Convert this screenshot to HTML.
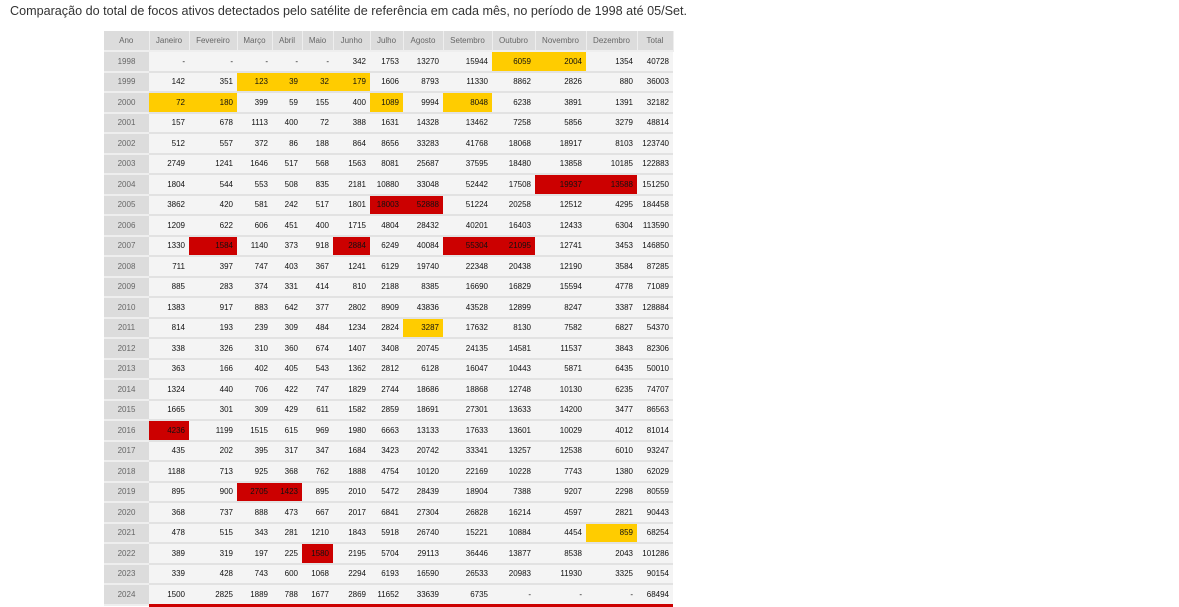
<!DOCTYPE html>
<html><head><meta charset="utf-8">
<style>
body{margin:0;background:#fff;width:1179px;height:607px;overflow:hidden;font-family:"Liberation Sans",sans-serif;}
#title{position:absolute;left:10px;top:4px;font-size:12.6px;color:#333;}
#tbl{position:absolute;left:104px;top:31px;width:569px;border-collapse:collapse;table-layout:fixed;}
#tbl td,#tbl th{box-sizing:border-box;height:20.5px;padding:0 4px 0 0;font-size:8px;text-align:right;border-bottom:2px solid #e2e2e2;background:#f4f4f4;color:#111;white-space:nowrap;overflow:hidden;}
#tbl th{background:#dcdcdc;color:#666;font-weight:normal;text-align:center;padding:0;border-right:1px solid #eee;border-bottom:2px solid #eee;height:20px;}
#tbl td.ano{background:#dcdcdc;color:#666;text-align:center;padding:0;border-bottom:2px solid #eee;}
#tbl td.y{background:#ffcc00;}
#tbl td.r{background:#cc0000;}
#redline{position:absolute;left:149px;top:604px;width:524px;height:3px;background:#cc0000;}
</style></head><body>
<div id="title">Comparação do total de focos ativos detectados pelo satélite de referência em cada mês, no período de 1998 até 05/Set.</div>
<table id="tbl"><colgroup id="cols"></colgroup><thead><tr id="hdr"></tr></thead><tbody id="body"></tbody></table>
<div id="redline"></div>
<script>
const headers=["Ano","Janeiro","Fevereiro","Março","Abril","Maio","Junho","Julho","Agosto","Setembro","Outubro","Novembro","Dezembro","Total"];
const widths=[45,40,48,35,30,31,37,33,40,49,43,51,51,36];
const years=[1998,1999,2000,2001,2002,2003,2004,2005,2006,2007,2008,2009,2010,2011,2012,2013,2014,2015,2016,2017,2018,2019,2020,2021,2022,2023,2024];
const values=[
["-","-","-","-","-",342,1753,13270,15944,6059,2004,1354,40728],
[142,351,123,39,32,179,1606,8793,11330,8862,2826,880,36003],
[72,180,399,59,155,400,1089,9994,8048,6238,3891,1391,32182],
[157,678,1113,400,72,388,1631,14328,13462,7258,5856,3279,48814],
[512,557,372,86,188,864,8656,33283,41768,18068,18917,8103,123740],
[2749,1241,1646,517,568,1563,8081,25687,37595,18480,13858,10185,122883],
[1804,544,553,508,835,2181,10880,33048,52442,17508,19937,13588,151250],
[3862,420,581,242,517,1801,18003,52888,51224,20258,12512,4295,184458],
[1209,622,606,451,400,1715,4804,28432,40201,16403,12433,6304,113590],
[1330,1584,1140,373,918,2884,6249,40084,55304,21095,12741,3453,146850],
[711,397,747,403,367,1241,6129,19740,22348,20438,12190,3584,87285],
[885,283,374,331,414,810,2188,8385,16690,16829,15594,4778,71089],
[1383,917,883,642,377,2802,8909,43836,43528,12899,8247,3387,128884],
[814,193,239,309,484,1234,2824,3287,17632,8130,7582,6827,54370],
[338,326,310,360,674,1407,3408,20745,24135,14581,11537,3843,82306],
[363,166,402,405,543,1362,2812,6128,16047,10443,5871,6435,50010],
[1324,440,706,422,747,1829,2744,18686,18868,12748,10130,6235,74707],
[1665,301,309,429,611,1582,2859,18691,27301,13633,14200,3477,86563],
[4236,1199,1515,615,969,1980,6663,13133,17633,13601,10029,4012,81014],
[435,202,395,317,347,1684,3423,20742,33341,13257,12538,6010,93247],
[1188,713,925,368,762,1888,4754,10120,22169,10228,7743,1380,62029],
[895,900,2705,1423,895,2010,5472,28439,18904,7388,9207,2298,80559],
[368,737,888,473,667,2017,6841,27304,26828,16214,4597,2821,90443],
[478,515,343,281,1210,1843,5918,26740,15221,10884,4454,859,68254],
[389,319,197,225,1580,2195,5704,29113,36446,13877,8538,2043,101286],
[339,428,743,600,1068,2294,6193,16590,26533,20983,11930,3325,90154],
[1500,2825,1889,788,1677,2869,11652,33639,6735,"-","-","-",68494]
];
const yellowCells=["1998-9","1998-10","1999-2","1999-3","1999-4","1999-5","2000-0","2000-1","2000-6","2000-8","2011-7","2021-11"];
const redCells=["2004-10","2004-11","2005-6","2005-7","2007-1","2007-5","2007-8","2007-9","2016-0","2019-2","2019-3","2022-4"];
const cols=document.getElementById('cols');
widths.forEach(w=>{const c=document.createElement('col');c.style.width=w+'px';cols.appendChild(c);});
const hdr=document.getElementById('hdr');
headers.forEach((h,i)=>{const th=document.createElement('th');th.textContent=h;


hdr.appendChild(th);});
const body=document.getElementById('body');
years.forEach((y,ri)=>{const tr=document.createElement('tr');


const a=document.createElement('td');a.className='ano';a.textContent=y;


tr.appendChild(a);
values[ri].forEach((v,ci)=>{const td=document.createElement('td');td.textContent=v;
const k=y+'-'+ci;if(yellowCells.includes(k))td.className='y';if(redCells.includes(k))td.className='r';


tr.appendChild(td);});
body.appendChild(tr);});
</script>
</body></html>
